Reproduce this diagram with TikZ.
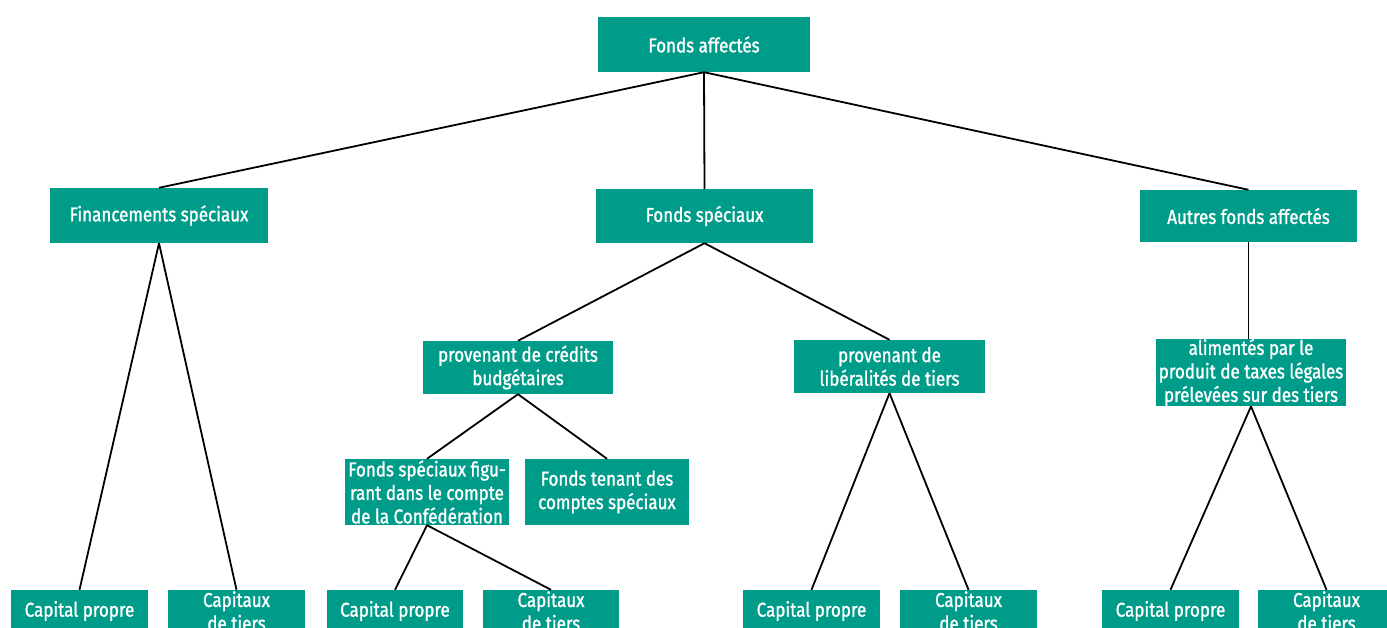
\documentclass[tikz,border=0pt]{standalone}
\usepackage{fontspec}
\setmainfont{Fira Sans}[FakeStretch=0.85,FakeBold=1.2]
\definecolor{teal}{HTML}{009C8A}
\begin{document}
\begin{tikzpicture}[x=1pt,y=-1pt,
  box/.style={fill=teal,text=white,align=center,inner sep=0pt,font=\fontsize{20}{23.5}\selectfont},
  link/.style={line width=1.8pt,black}]
\clip (0,0) rectangle (1387,628);
\fill[white] (0,0) rectangle (1387,628);
\node[box,minimum width=212,minimum height=55] (A) at (704,44.5) {Fonds affectés};
\node[box,minimum width=218,minimum height=55] (B) at (159,215.5) {Financements spéciaux};
\node[box,minimum width=217,minimum height=54] (C) at (704.5,216) {Fonds spéciaux};
\node[box,minimum width=217,minimum height=52] (D) at (1248.5,216) {Autres fonds affectés};
\node[box,minimum width=190,minimum height=53] (E) at (518,367.5) {provenant de crédits\\budgétaires};
\node[box,minimum width=191,minimum height=53] (F) at (889.5,366.5) {provenant de\\libéralités de tiers};
\node[box,minimum width=190,minimum height=65] (G) at (1251,372.5) {alimentés par le\\produit de taxes légales\\prélevées sur des tiers};
\node[box,minimum width=164,minimum height=66] (H) at (427,492) {Fonds spéciaux figu-\\rant dans le compte\\de la Confédération};
\node[box,minimum width=164,minimum height=66] (I) at (607,492) {Fonds tenant des\\comptes spéciaux};
\node[box,minimum width=137,minimum height=42] (P1) at (79.5,611) {Capital propre};
\node[box,minimum width=137,minimum height=42] (T1) at (236.5,611) {Capitaux\\de tiers};
\node[box,minimum width=136,minimum height=42] (P2) at (395,611) {Capital propre};
\node[box,minimum width=136,minimum height=42] (T2) at (551,611) {Capitaux\\de tiers};
\node[box,minimum width=137,minimum height=42] (P3) at (811.5,611) {Capital propre};
\node[box,minimum width=137,minimum height=42] (T3) at (968.5,611) {Capitaux\\de tiers};
\node[box,minimum width=137,minimum height=42] (P4) at (1170.5,611) {Capital propre};
\node[box,minimum width=137,minimum height=42] (T4) at (1326.5,611) {Capitaux\\de tiers};
\draw[link] (A.south) -- (B.north);
\draw[link] (A.south) -- (C.north);
\draw[link] (A.south) -- (D.north);
\draw[link] (B.south) -- (P1.north);
\draw[link] (B.south) -- (T1.north);
\draw[link] (C.south) -- (E.north);
\draw[link] (C.south) -- (F.north);
\draw[link] (E.south) -- (H.north);
\draw[link] (E.south) -- (I.north);
\draw[link] (H.south) -- (P2.north);
\draw[link] (H.south) -- (T2.north);
\draw[link] (F.south) -- (P3.north);
\draw[link] (F.south) -- (T3.north);
\draw[link] (D.south) -- (D.south |- G.north);
\draw[link] (G.south) -- (P4.north);
\draw[link] (G.south) -- (T4.north);
\end{tikzpicture}
\end{document}
